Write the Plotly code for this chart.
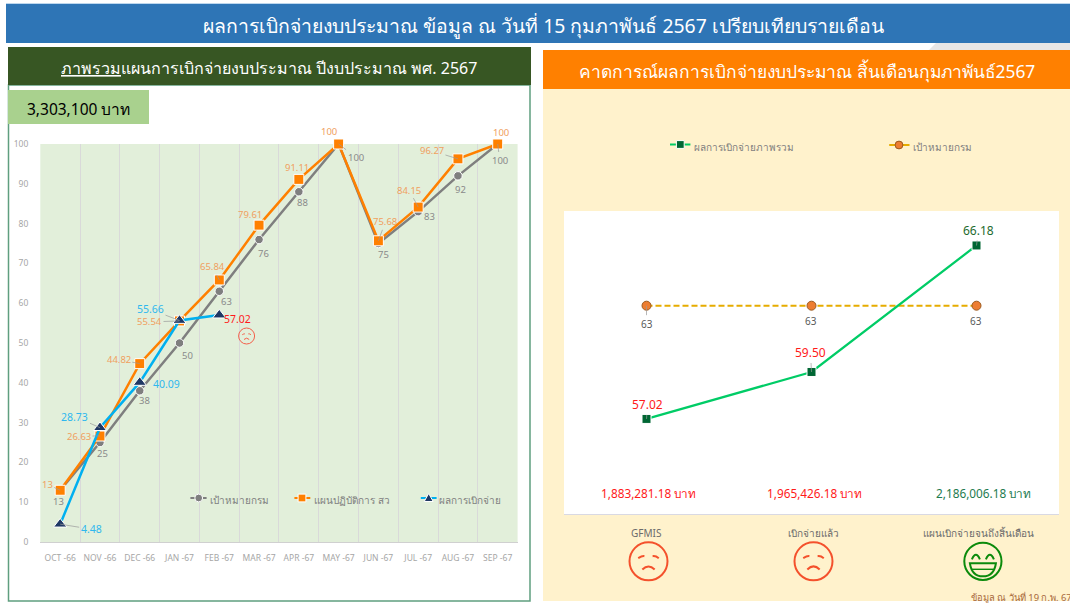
import plotly.graph_objects as go

W, H = 1070, 603
FONT = "Noto Sans, Open Sans, DejaVu Sans, sans-serif"

# ---------- data ----------
months = ["OCT -66", "NOV -66", "DEC -66", "JAN -67", "FEB -67", "MAR -67",
          "APR -67", "MAY -67", "JUN -67", "JUL -67", "AUG -67", "SEP -67"]
target = [13, 25, 38, 50, 63, 76, 88, 100, 75, 83, 92, 100]
plan = [13, 26.63, 44.82, 55.54, 65.84, 79.61, 91.11, 100, 75.68, 84.15, 96.27, 100]
actual = [4.48, 28.73, 40.09, 55.66, 57.02]
left_names = ["เป้าหมายกรม", "แผนปฏิบัติการ สว", "ผลการเบิกจ่าย"]

stages = ["GFMIS", "เบิกจ่ายแล้ว", "แผนเบิกจ่ายจนถึงสิ้นเดือน"]
overall = [57.02, 59.50, 66.18]
goal = [63, 63, 63]
amounts = ["1,883,281.18 บาท", "1,965,426.18 บาท", "2,186,006.18 บาท"]
right_names = ["ผลการเบิกจ่ายภาพรวม", "เป้าหมายกรม"]

main_title = "ผลการเบิกจ่ายงบประมาณ ข้อมูล ณ วันที่ 15 กุมภาพันธ์ 2567 เปรียบเทียบรายเดือน"
left_title = "<u>ภาพรวม</u>แผนการเบิกจ่ายงบประมาณ ปีงบประมาณ พศ. 2567"
right_title = "คาดการณ์ผลการเบิกจ่ายงบประมาณ สิ้นเดือนกุมภาพันธ์2567"
budget = "3,303,100 บาท"
footnote = "ข้อมูล ณ วันที่ 19 ก.พ. 67"

# ---------- label offsets (px): dx, dy, has leader ----------
target_off = [(-2, 11, 0), (3, 11, 0), (5, 10, 0), (8, 12, 0), (7, 10, 0), (4, 14, 0),
              (4, 11, 0), (17, 13, 1), (5, 11, 0), (11, 5, 0), (3, 14, 0), (2, 16, 1)]
plan_off = [(-13, -6, 1), (-21, 0, 1), (-21, -4, 1), (-30, 1, 1), (-7, -13, 1), (-9, -11, 0),
            (-2, -12, 0), (-10, -13, 0), (7, -19, 1), (-9, -17, 1), (-26, -8, 1), (3, -12, 0)]
actual_off = [(31, 5, 1), (-25, -11, 1), (27, 2, 0), (-29, -11, 1), (18, 4, 0)]
overall_off = [(1, -14, 1), (-1, -19, 1), (2, -15, 1)]
goal_off = [(0, 18, 1), (-1, 15, 0), (-1, 15, 0)]


def px(x):
    return x / W


def py(y):
    return 1 - y / H


shapes = []
annos = []


def rect(x0, y0, x1, y1, fill, line=None, lw=0, layer="below"):
    shapes.append(dict(type="rect", xref="paper", yref="paper", x0=px(x0), x1=px(x1),
                       y0=py(y0), y1=py(y1), fillcolor=fill, layer=layer,
                       line=dict(color=line or fill, width=lw)))


def text(x, y, s, size, color, anchor="center", weight=None):
    annos.append(dict(xref="paper", yref="paper", x=px(x), y=py(y), text=s, showarrow=False,
                      xanchor=anchor, yanchor="middle",
                      font=dict(size=size, color=color, family=FONT, weight=weight)))


def path(points, color, w, fill=None):
    shapes.append(dict(type="path", xref="paper", yref="paper", path=points,
                       line=dict(color=color, width=w), fillcolor=fill or "rgba(0,0,0,0)", layer="above"))


def P(x, y):
    return f"{px(x):.5f},{py(y):.5f}"


def circle(cx, cy, r, color, w, fill="rgba(0,0,0,0)"):
    shapes.append(dict(type="circle", xref="paper", yref="paper", x0=px(cx - r), x1=px(cx + r),
                       y0=py(cy - r), y1=py(cy + r), line=dict(color=color, width=w),
                       fillcolor=fill, layer="above"))


def sad(cx, cy, r, color, w):
    circle(cx, cy, r, color, w)
    k = r / 18.5
    path(f"M{P(cx-10*k,cy-3*k)} Q{P(cx-6*k,cy-5.5*k)} {P(cx-4*k,cy-5*k)}", color, w)
    path(f"M{P(cx+4*k,cy-5*k)} Q{P(cx+7*k,cy-5.5*k)} {P(cx+10*k,cy-3*k)}", color, w)
    path(f"M{P(cx-6*k,cy+8*k)} Q{P(cx,cy+2*k)} {P(cx+6*k,cy+8*k)}", color, w)


def happy(cx, cy, r, color, w):
    circle(cx, cy, r, color, w)
    for ex in (cx - 7, cx + 7):
        path(f"M{P(ex-4,cy-2)} Q{P(ex,cy-11)} {P(ex+4,cy-2)}", color, w)
    path(f"M{P(cx-13,cy+2)} L{P(cx+13,cy+2)} Q{P(cx+11,cy+15)} {P(cx,cy+15)} "
         f"Q{P(cx-11,cy+15)} {P(cx-13,cy+2)} Z", color, w)
    path(f"M{P(cx-11,cy+8)} L{P(cx+11,cy+8)}", color, w * 0.7)


def key(x0, x1, mx, y, color, symbol, mcolor, tx, ty, name, size=10, dash=None, edge="#FFFFFF", lw=2):
    shapes.append(dict(type="line", xref="paper", yref="paper", x0=px(x0), x1=px(x1), y0=py(y), y1=py(y),
                       line=dict(color=color, width=lw, dash=dash), layer="above"))
    if symbol == "circle":
        circle(mx, y, 3.9, edge, 1, mcolor)
    elif symbol == "square":
        shapes.append(dict(type="rect", xref="paper", yref="paper", x0=px(mx - 3.9), x1=px(mx + 3.9),
                           y0=py(y - 3.9), y1=py(y + 3.9), fillcolor=mcolor,
                           line=dict(color=edge, width=1), layer="above"))
    else:
        path(f"M{P(mx-4.5,y+3.5)} L{P(mx,y-4.5)} L{P(mx+4.5,y+3.5)} Z", edge, 1, mcolor)
    text(tx, ty, name, size, "#7F7F7F", anchor="left")


# ---------- panels ----------
rect(6, 4, W, 43, "#2E75B6")
rect(6, 3, W, 4, "#BDD7EE")
shapes.append(dict(type="path", xref="paper", yref="paper", layer="below", line=dict(width=0),
                   fillcolor="#E7E6E6",
                   path=f"M{P(929,50)} L{P(936,43)} L{P(W,43)} L{P(W,50)} Z"))
rect(8.5, 85, 530, 601, "#FFFFFF", "#5F9F7F", 1.5)
rect(8, 47, 531, 85, "#375623")
rect(8, 90, 149, 124, "#A9D18E")
rect(40.3, 144, 517.6, 542, "#E2EFDA")
rect(543, 50, W, 89, "#FF8000")
rect(543, 89, W, 601, "#FFF2CC")
rect(564, 211, 1059, 514, "#FFFFFF")
rect(564, 514, 1059, 515, "#D9D9E3")

text(543, 25, main_title, 19.4, "#FFFFFF")
text(268.7, 68, left_title, 16, "#FFFFFF")
text(807.5, 71, right_title, 17.4, "#FFFFFF")
text(78.5, 109, budget, 15.5, "#000000")
text(969.3, 597.5, footnote, 9.4, "#A8693C", anchor="left")

for cx, s in zip((646.8, 813, 978.8), stages):
    text(cx, 532.5, s, 10, "#6B6B6B")
for cx, a, col in zip((648.9, 814.2, 983.2), amounts, ("#FF1A1A", "#FF1A1A", "#1E7B4F")):
    text(cx, 492.5, a, 11.8, col)
sad(648.5, 561.3, 19, "#F4512C", 2)
sad(813.5, 561.3, 19, "#F4512C", 2)
happy(982.9, 561.3, 18.6, "#0B8A0B", 2)
sad(246.6, 336, 8, "#F4604A", 1)

key(190.4, 206.6, 198.7, 498, "#7F7F7F", "circle", "#7F7F7F", 207.6, 500, left_names[0])
key(294.4, 310.3, 302, 498, "#FF8000", "square", "#FF8000", 311.6, 500, left_names[1])
key(420.8, 436.6, 428.7, 498, "#00B0F0", "triangle", "#1F3864", 437.3, 500, left_names[2])
key(670, 690.4, 680.3, 144.5, "#00CC66", "square", "#006633", 692, 146.7, right_names[0])
key(889.2, 909.5, 899, 145, "#E6AC00", "circle", "#ED7D31", 910.9, 146.7, right_names[1], edge="#9C5A1E")


# ---------- data labels ----------
def labels(xs, ys, offs, fmt, color, size, ax_x, ax_y, colors=None):
    for i, (x, y, (dx, dy, lead)) in enumerate(zip(xs, ys, offs)):
        annos.append(dict(xref=ax_x, yref=ax_y, x=x, y=y, text=format(y, fmt),
                          showarrow=bool(lead), arrowhead=0, arrowwidth=0.7, arrowcolor="#9A9A9A",
                          ax=dx, ay=dy, xshift=0 if lead else dx, yshift=0 if lead else -dy,
                          xanchor="center", yanchor="middle",
                          font=dict(size=size, family=FONT, color=(colors[i] if colors else color))))


labels(months, target, target_off, "g", "#8A8A8A", 9.5, "x", "y")
labels(months, plan, plan_off, "g", "#F0A060", 9.5, "x", "y")
labels(months[:5], actual, actual_off, "g", "#2FB8EE", 10.5, "x", "y",
       colors=["#2FB8EE"] * 4 + ["#FF1A1A"])
labels(stages, overall, overall_off, ".2f", None, 12, "x2", "y2",
       colors=["#FF1A1A", "#FF1A1A", "#1E6B2E"])
labels(stages, goal, goal_off, "g", "#5A5A5A", 10, "x2", "y2")

# ---------- traces ----------
wline = dict(color="#FFFFFF", width=1)
fig = go.Figure()
fig.add_trace(go.Scatter(x=months, y=target, name=left_names[0], mode="lines+markers", cliponaxis=False,
                         line=dict(color="#7F7F7F", width=2.5),
                         marker=dict(symbol="circle", size=8.5, color="#7F7F7F", line=wline)))
fig.add_trace(go.Scatter(x=months, y=plan, name=left_names[1], mode="lines+markers", cliponaxis=False,
                         line=dict(color="#FF8000", width=2.5),
                         marker=dict(symbol="square", size=10, color="#FF8000", line=wline)))
fig.add_trace(go.Scatter(x=months[:5], y=actual, name=left_names[2], mode="lines+markers", cliponaxis=False,
                         line=dict(color="#00B0F0", width=2.5),
                         marker=dict(symbol="triangle-up", size=11.5, color="#1F3864", line=wline)))
fig.add_trace(go.Scatter(x=stages, y=goal, name=right_names[1], mode="lines+markers", cliponaxis=False,
                         xaxis="x2", yaxis="y2",
                         line=dict(color="#E6AC00", width=2, dash="6px,3px"),
                         marker=dict(symbol="circle", size=9, color="#ED7D31",
                                     line=dict(color="#9C5A1E", width=1))))
fig.add_trace(go.Scatter(x=stages, y=overall, name=right_names[0], mode="lines+markers", cliponaxis=False,
                         xaxis="x2", yaxis="y2",
                         line=dict(color="#00CC66", width=2.25),
                         marker=dict(symbol="square", size=9, color="#006633", line=wline)))

fig.update_layout(
    width=W, height=H, margin=dict(l=0, r=0, t=0, b=0, autoexpand=False), autosize=False,
    paper_bgcolor="#FFFFFF", plot_bgcolor="rgba(0,0,0,0)", showlegend=False,
    font=dict(family=FONT),
    shapes=shapes, annotations=annos,
    xaxis=dict(domain=[px(40.3), px(517.6)], type="category", categoryorder="array", categoryarray=months,
               range=[-0.5, 11.5], tickson="boundaries", ticks="", showgrid=True, gridcolor="#D9D9D9", gridwidth=1,
               showline=True, linecolor="#D0D0D0", linewidth=1, ticklabelstandoff=8,
               tickangle=0, tickfont=dict(size=8.5, color="#A6A6A6", family=FONT), zeroline=False),
    yaxis=dict(domain=[py(542), py(144)], range=[0, 100], tick0=0, dtick=10, showgrid=False, ticks="",
               zeroline=False, showline=False, ticklabelstandoff=11,
               tickfont=dict(size=8.5, color="#A6A6A6", family=FONT)),
    xaxis2=dict(domain=[px(564), px(1059)], type="category", categoryorder="array", categoryarray=stages,
                range=[-0.5, 2.5], visible=False, anchor="y2"),
    yaxis2=dict(domain=[py(514), py(211)], range=[52, 68], visible=False, anchor="x2"),
)

fig.write_html("out.html", config={"displayModeBar": False},
               post_script="document.body.style.margin='0';document.documentElement.style.overflow='hidden';")
